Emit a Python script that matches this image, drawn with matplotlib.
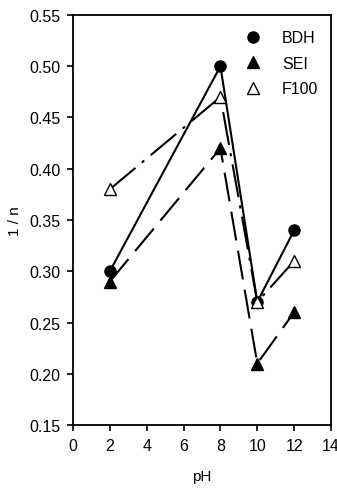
import matplotlib
matplotlib.use("Agg")
import matplotlib.pyplot as plt

plt.rcParams['font.family'] = ['Liberation Sans', 'DejaVu Sans']

ph = [2, 8, 10, 12]
bdh = [0.30, 0.50, 0.27, 0.34]
sei = [0.29, 0.42, 0.21, 0.26]
f100 = [0.38, 0.47, 0.27, 0.31]
xticks = [0, 2, 4, 6, 8, 10, 12, 14]
yticks = [0.15, 0.20, 0.25, 0.30, 0.35, 0.40, 0.45, 0.50, 0.55]

fig = plt.figure(figsize=(3.37, 4.89), dpi=100)
ax = fig.add_axes([0.2166, 0.1288, 0.7656, 0.8385])

ax.plot(ph, bdh, color='black', lw=1.5, ls='-')
ax.plot(ph, sei, color='black', lw=1.5, ls=(0, (14, 5)))
ax.plot(ph, f100, color='black', lw=1.5, ls=(0, (16, 4, 1.5, 4)))

ax.plot(ph, bdh, 'o', color='black', ms=8, ls='none', label='BDH')
ax.plot(ph, sei, '^', color='black', ms=8, ls='none', label='SEI')
ax.plot(ph, f100, '^', mfc='white', mec='black', mew=1, ms=8, ls='none', label='F100')

ax.set_xlim(0, 14)
ax.set_ylim(0.15, 0.55)
ax.set_xticks(xticks)
ax.set_yticks(yticks)
ax.set_yticklabels([f"{v:.2f}" for v in yticks])
ax.tick_params(direction='out', length=4, width=1.2, labelsize=11.5, top=False, right=False, pad=5)
for s in ax.spines.values():
    s.set_linewidth(1.3)

ax.set_xlabel('pH', fontsize=11, labelpad=12)
ax.set_ylabel('1 / n', fontsize=11, labelpad=5)

leg = ax.legend(loc='upper right', frameon=False, handlelength=1.0, handletextpad=1.3,
                fontsize=11.5, labelspacing=0.65, borderaxespad=0.0,
                bbox_to_anchor=(0.975, 0.978))

fig.savefig('out.png', dpi=100)
